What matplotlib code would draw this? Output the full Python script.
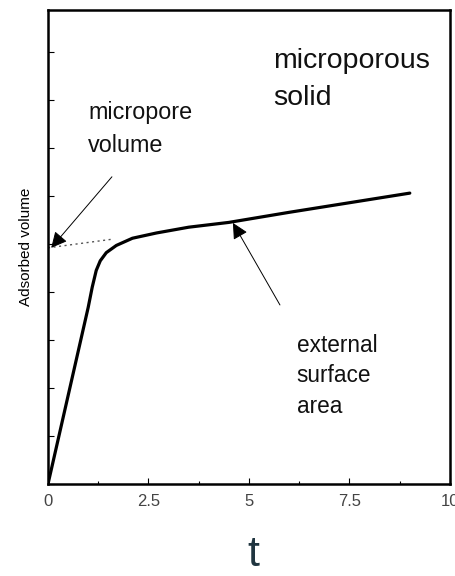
import matplotlib.pyplot as plt
from matplotlib.ticker import MultipleLocator

plt.rcParams['font.family'] = ['Liberation Sans', 'DejaVu Sans']

# t-plot of a microporous solid
t_vals = [0, 1.0, 1.1, 1.2, 1.3, 1.45, 1.7, 2.1, 2.7, 3.5, 4.5, 6.0, 7.5, 9.0]
ads_vol = [0, 3.68, 4.1, 4.45, 4.65, 4.82, 4.97, 5.12, 5.23, 5.35, 5.45, 5.66, 5.86, 6.06]

# extrapolation of the linear branch back to t = 0
extra_t = [0, 1.6]
extra_v = [4.92, 5.10]

x_ticks = [0, 2.5, 5, 7.5, 10]
x_labels = ['0', '2.5', '5', '7.5', '10']

fig = plt.figure(figsize=(4.56, 5.76), dpi=100)
ax = fig.add_axes([48/456, 92/576, 402/456, 474/576])

ax.plot(t_vals, ads_vol, color='black', lw=2.3, solid_capstyle='round')
ax.plot(extra_t, extra_v, color='#555555', lw=1.0, ls=(0, (1.5, 2.5)))

ax.set_xlim(0, 10)
ax.set_ylim(0, 9.875)

ax.set_xticks(x_ticks)
ax.set_xticklabels(x_labels)
ax.xaxis.set_minor_locator(MultipleLocator(1.25))
ax.yaxis.set_major_locator(MultipleLocator(1))
ax.set_yticklabels([])
ax.tick_params(axis='both', which='major', direction='in', length=4, width=0.8,
               labelsize=12, labelcolor='#444444', pad=7)
ax.tick_params(axis='both', which='minor', direction='in', length=2.5, width=0.8)
for s in ax.spines.values():
    s.set_linewidth(1.8)

ax.set_ylabel('Adsorbed volume', fontsize=11, labelpad=4)
fig.text(253/456, 1 - 555/576, 't', fontsize=31, color='#203540',
         ha='center', va='center')

# va='baseline' puts the last line's baseline at y
ax.text(5.6, 7.9, 'microporous\nsolid', fontsize=20.5, ha='left', va='baseline',
        linespacing=1.55, color='#111111')
ax.text(1.0, 6.92, 'micropore\nvolume', fontsize=16.8, ha='left', va='baseline',
        linespacing=1.56, color='#111111')
ax.text(6.19, 1.48, 'external\nsurface\narea', fontsize=16.3, ha='left', va='baseline',
        linespacing=1.42, color='#111111')

arrow_kw = dict(arrowstyle='-|>', color='black', lw=0.7, mutation_scale=24,
                shrinkA=0, shrinkB=0)
ax.annotate('', xy=(0.08, 4.92), xytext=(1.59, 6.4), arrowprops=arrow_kw)
ax.annotate('', xy=(4.6, 5.44), xytext=(5.77, 3.73), arrowprops=arrow_kw)

fig.savefig('out.png', dpi=100)
